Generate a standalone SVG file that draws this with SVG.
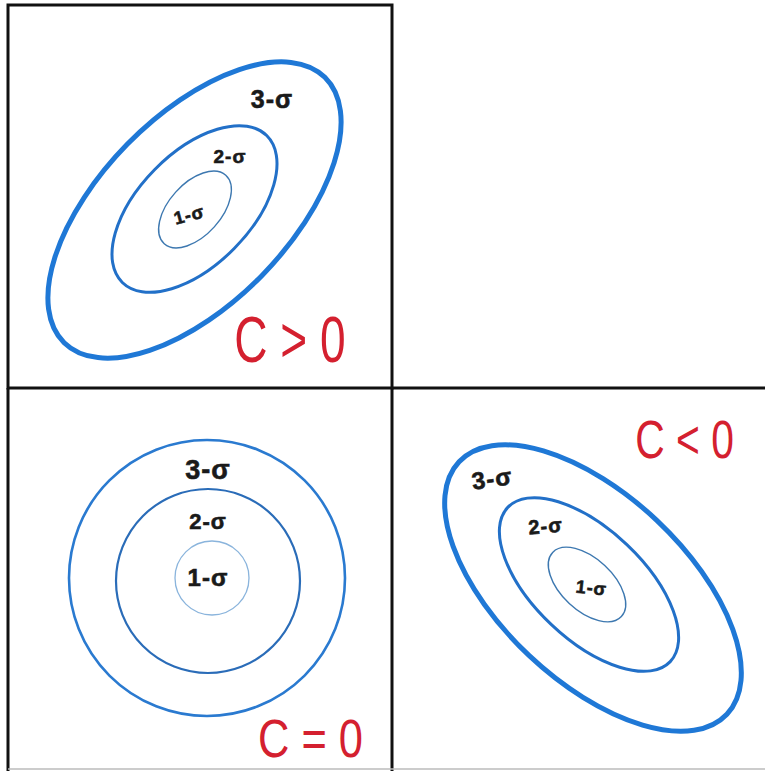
<svg xmlns="http://www.w3.org/2000/svg" width="765" height="771" viewBox="0 0 765 771">
<style>
.frame{fill:none;stroke:#111;stroke-width:3}
.s3{fill:none;stroke:#1f78d6;stroke-width:5}
.s2{fill:none;stroke:#2270c8;stroke-width:3}
.s1{fill:none;stroke:#3d78b0;stroke-width:1.4}
.c3{fill:none;stroke:#2a7ad0;stroke-width:2.6}
.c2{fill:none;stroke:#2a6cb8;stroke-width:2.2}
.c1{fill:none;stroke:#8ab4dc;stroke-width:1.3}
.lbl{font-family:"Liberation Sans",Arial,sans-serif;font-weight:bold;fill:#1a1a1a;stroke:#1a1a1a;stroke-width:0.6;text-anchor:middle;letter-spacing:1px}
.red{font-family:"Liberation Sans",Arial,sans-serif;fill:#d4202f;text-anchor:middle}
</style>
<rect width="765" height="771" fill="#fff"/>
<g id="frames">
<rect class="frame" x="8" y="5" width="384" height="383"/>
<line class="frame" x1="392" y1="388" x2="765" y2="388"/>
<line class="frame" x1="392" y1="388" x2="392" y2="771"/>
<line class="frame" x1="8" y1="388" x2="8" y2="771"/>
<line x1="8" y1="769" x2="765" y2="769" stroke="#bbb" stroke-width="1.5"/>
</g>
<g id="positive">
<ellipse class="s3" cx="194.5" cy="210" rx="186" ry="94" transform="rotate(-45.5 194.5 210)"/>
<ellipse class="s2" cx="194.5" cy="209" rx="103" ry="56" transform="rotate(-45.5 194.5 209)"/>
<ellipse class="s1" cx="195" cy="209.5" rx="46" ry="26" transform="rotate(-48 195 209.5)"/>
<text class="lbl" x="272" y="108" font-size="25">3-σ</text>
<text class="lbl" x="230" y="163" font-size="19">2-σ</text>
<text class="lbl" x="189" y="221" font-size="18" transform="rotate(-15 189 214)">1-σ</text>
<text class="red" font-size="64" transform="translate(290 362) scale(0.72 1)">C &gt; 0</text>
</g>
<g id="zero">
<circle class="c3" cx="207" cy="578" r="138"/>
<circle class="c2" cx="208" cy="581" r="92"/>
<circle class="c1" cx="212" cy="578" r="37"/>
<text class="lbl" x="208" y="479" font-size="27">3-σ</text>
<text class="lbl" x="208" y="529" font-size="22">2-σ</text>
<text class="lbl" x="208" y="586" font-size="24">1-σ</text>
<text class="red" font-size="53" transform="translate(310.5 757) scale(0.82 1)">C = 0</text>
</g>
<g id="negative">
<ellipse class="s3" cx="593" cy="588" rx="184" ry="93" transform="rotate(43.3 593 588)"/>
<ellipse class="s2" cx="589" cy="584.5" rx="112" ry="55" transform="rotate(43.5 589 584.5)"/>
<ellipse class="s1" cx="587" cy="584.5" rx="47" ry="26" transform="rotate(43 587 584.5)"/>
<text class="lbl" x="492" y="487" font-size="24" transform="rotate(-8 492 478)">3-σ</text>
<text class="lbl" x="545.5" y="533" font-size="20" transform="rotate(-5 545 526)">2-σ</text>
<text class="lbl" x="591.5" y="594" font-size="18" transform="rotate(6 591 587)">1-σ</text>
<text class="red" font-size="53" transform="translate(684.5 458) scale(0.77 1)">C &lt; 0</text>
</g>
</svg>
